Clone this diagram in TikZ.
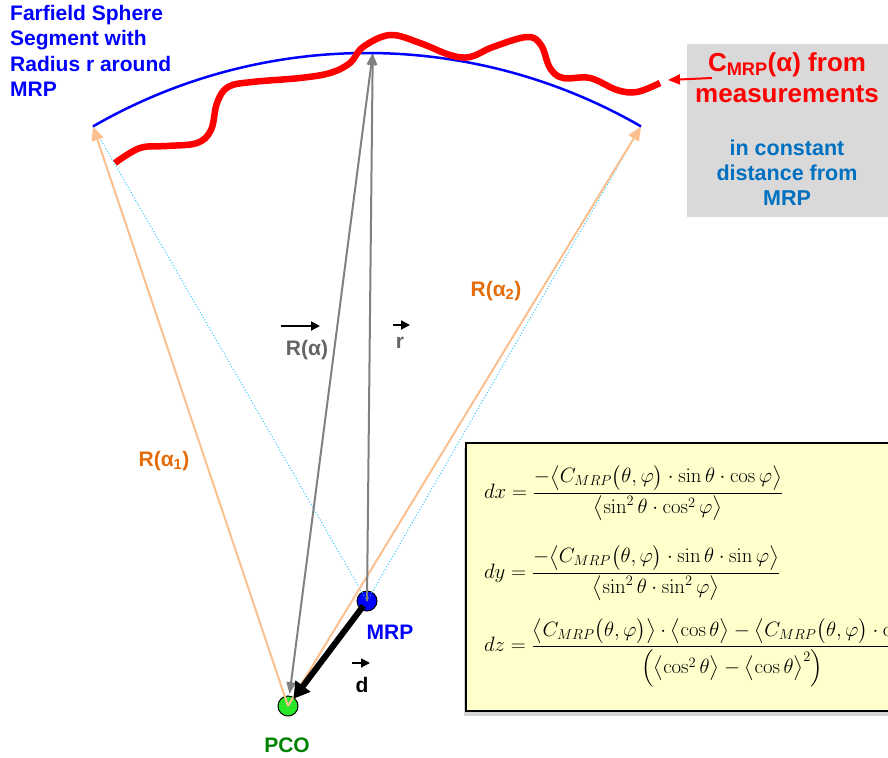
\documentclass[tikz,border=0pt]{standalone}
\usepackage[no-math]{fontspec}
\setmainfont{Liberation Sans}
\usepackage{amsmath}
\usetikzlibrary{arrows.meta,shadows,calc}
\definecolor{peach}{RGB}{250,192,143}
\definecolor{skyline}{RGB}{40,200,255}
\definecolor{darkorange}{RGB}{228,108,10}
\definecolor{labelgray}{RGB}{100,100,100}
\definecolor{boxgray}{RGB}{217,217,217}
\definecolor{eqyellow}{RGB}{255,255,204}
\definecolor{pcogreen}{RGB}{0,130,0}
\definecolor{brightgreen}{RGB}{40,230,40}
\definecolor{noteblue}{RGB}{0,112,192}
\tikzset{
  lbl/.style={font=\bfseries\fontsize{21}{25}\selectfont, inner sep=0pt},
  dotnode/.style={circle, draw=black, line width=1pt, minimum size=20pt, inner sep=0pt},
  rayarrow/.style={peach, line width=2pt, -{Triangle[length=14pt,width=12pt]}},
  radial/.style={skyline, line width=1pt, dotted},
  vecarrow/.style={black, line width=1.8pt, -{Triangle[length=9pt,width=9pt]}},
  grayline/.style={gray, line width=2pt},
  eqbox/.style={fill=eqyellow, draw=black, line width=1.8pt,
    drop shadow={shadow xshift=-2pt, shadow yshift=-5pt, opacity=0.35}},
  eqtext/.style={font=\fontsize{20}{24}\selectfont, inner sep=0pt, anchor=west}
}
\begin{document}
\begin{tikzpicture}[x=1pt,y=-1pt]
        \useasboundingbox (0,0) rectangle (888,757);
        \clip (0,0) rectangle (888,757);
        % Reference points
        \node[dotnode, fill=blue] (MRP) at (367,601) {};
        \node[dotnode, fill=brightgreen] (PCO) at (288,706) {};
        \coordinate (L) at ($(MRP)+(-120:548)$);
        \coordinate (R) at ($(MRP)+(-60:548)$);
        \coordinate (Top) at ($(MRP)+(-89.4:548)$);
        % Rays to the sphere segment
        \draw[radial] (MRP.center) -- (L);
        \draw[radial] (MRP.center) -- (R);
        \draw[rayarrow] (PCO.center) -- (L);
        \draw[rayarrow] (PCO.center) -- (R);
        \draw[grayline, {Triangle[length=12pt,width=9pt]}-{Triangle[length=12pt,width=9pt]}, shorten <=12pt] (PCO.center) -- (Top);
        \draw[grayline, -{Triangle[length=12pt,width=9pt]}] (MRP.center) -- (Top);
        \draw[line width=6pt, -{Triangle[length=16pt,width=18pt]}, shorten <=6pt, shorten >=9pt] (MRP.center) -- (PCO.center);
        % Sphere segment and measured pattern
        \draw[blue, line width=2.5pt] (L) arc[start angle=-120, end angle=-60, radius=548];
        \draw[red, line width=6.5pt] plot[smooth, tension=0.6] coordinates {
          (115,163) (140,148) (167,146) (197,143) (211,130) (217,103) (228,87)
          (252,82) (300,78) (330,73) (350,63) (363,47) (390,35) (420,43)
          (450,55) (470,57) (493,47) (527,37) (541,45) (550,68) (563,78)
          (590,78) (617,90) (637,92) (660,83)};
        % Notes
        \node[blue, font=\bfseries\fontsize{21}{25.5}\selectfont, align=left, anchor=north west, inner sep=0pt]
          (farfield) at (10,5) {Farfield Sphere\\Segment with\\Radius r around\\MRP};
        \fill[boxgray] (687,44) rectangle (895,217);
        \node[red, font=\bfseries\fontsize{26}{31}\selectfont, align=center] (Cmeas) at (787,78)
          {C\textsubscript{MRP}(α) from\\measurements};
        \node[noteblue, font=\bfseries\fontsize{21.5}{25}\selectfont, align=center] (note) at (787,173)
          {in constant\\distance from\\MRP};
        \coordinate (Cfoot) at (712,78);
        \coordinate (CurveEnd) at (668,80);
        \draw[red, line width=2pt, -{Triangle[length=12pt,width=10pt]}] (Cfoot) -- (CurveEnd);
        % Vector labels
        \node[lbl, darkorange] (Ra1) at (164,461) {R(α\textsubscript{1})};
        \node[lbl, darkorange] (Ra2) at (496,291) {R(α\textsubscript{2})};
        \node[lbl, labelgray] (Ralpha) at (307,350) {R(α)};
        \node[lbl, labelgray] (rvec) at (400,343) {r};
        \node[lbl, blue] (MRPlabel) at (390,632) {MRP};
        \node[lbl] (dvec) at (362,685) {d};
        \node[lbl, pcogreen] (PCOlabel) at (287,745) {PCO};
        \draw[vecarrow] ($(Ralpha)+(-26,-24)$) -- ++(39,0);
        \draw[vecarrow] ($(rvec)+(-7,-18)$) -- ++(17,0);
        \draw[vecarrow] ($(dvec)+(-10,-22)$) -- ++(18,0);
        % Offset equations
        \node[eqbox, anchor=north west, minimum width=440pt, minimum height=268pt] (eqs) at (465,442) {};
        \node[eqtext] (dx) at (484,493) {$\displaystyle dx=\frac{-\bigl\langle C_{MRP}\bigl(\theta,\varphi\bigr)\cdot\sin\theta\cdot\cos\varphi\bigr\rangle}{\bigl\langle\sin^2\theta\cdot\cos^2\varphi\bigr\rangle}$};
        \node[eqtext] (dy) at (484,573) {$\displaystyle dy=\frac{-\bigl\langle C_{MRP}\bigl(\theta,\varphi\bigr)\cdot\sin\theta\cdot\sin\varphi\bigr\rangle}{\bigl\langle\sin^2\theta\cdot\sin^2\varphi\bigr\rangle}$};
        \node[eqtext] (dz) at (484,653) {$\displaystyle dz=\frac{\bigl\langle C_{MRP}\bigl(\theta,\varphi\bigr)\bigr\rangle\cdot\bigl\langle\cos\theta\bigr\rangle-\bigl\langle C_{MRP}\bigl(\theta,\varphi\bigr)\cdot\cos\theta\bigr\rangle}{\Bigl(\bigl\langle\cos^2\theta\bigr\rangle-\bigl\langle\cos\theta\bigr\rangle^2\Bigr)}$};
\end{tikzpicture}
\end{document}
